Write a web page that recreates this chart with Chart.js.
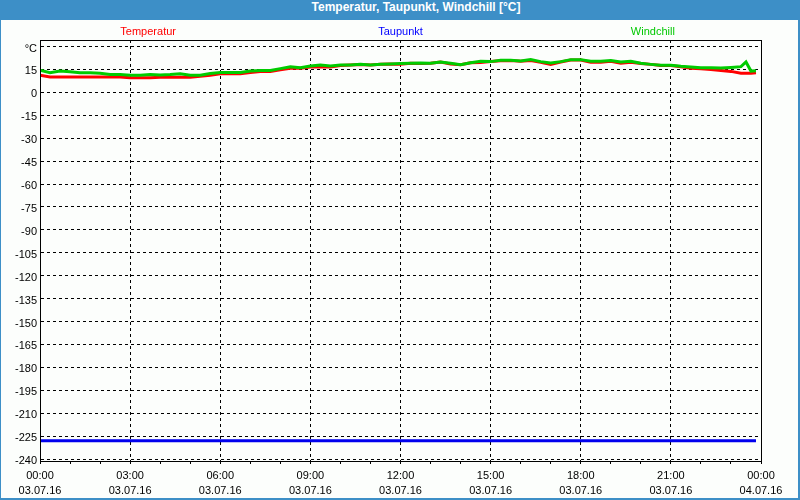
<!DOCTYPE html>
<html>
<head>
<meta charset="utf-8">
<script src="https://cdn.jsdelivr.net/npm/chart.js@4"></script>
<style>
  html, body { margin: 0; padding: 0; }
  body { width: 800px; height: 500px; background: #3d8fc7; position: relative; overflow: hidden; }
  #title { position: absolute; left: 32px; top: 0; width: 768px; height: 20px; line-height: 20px;
           text-align: center; color: #fff; font: bold 12px "Liberation Sans", Arial, sans-serif; }
  #panel { position: absolute; left: 1px; top: 20px; width: 797px; height: 478px; background: #fcfefc; }
  #chart { position: absolute; left: 0; top: 0; }
</style>
</head>
<body>
<div id="title">Temperatur, Taupunkt, Windchill [°C]</div>
<div id="panel"></div>
<canvas id="chart" width="800" height="500"></canvas>
<script>
// Messzeiten (03.07.16)
const times = [
  '00:00','00:20','00:40','01:00','01:20','01:40','02:00','02:20','02:40','03:00',
  '03:20','03:40','04:00','04:20','04:40','05:00','05:20','05:40','06:00','06:20',
  '06:40','07:00','07:20','07:40','08:00','08:20','08:40','09:00','09:20','09:40',
  '10:00','10:20','10:40','11:00','11:20','11:40','12:00','12:20','12:40','13:00',
  '13:20','13:40','14:00','14:20','14:40','15:00','15:20','15:40','16:00','16:20',
  '16:40','17:00','17:20','17:40','18:00','18:20','18:40','19:00','19:20','19:40',
  '20:00','20:20','20:40','21:00','21:20','21:40','22:00','22:20','22:40','23:00',
  '23:20','23:30','23:40','23:50'
];

const temperatur = [
  11.2, 10.1, 10.1, 10.1, 10.1, 10.1, 10.1, 10.1, 10.1, 9.5,
  9.5, 9.5, 9.9, 9.9, 9.9, 9.9, 10.5, 11.2, 12.1, 12.1,
  12.1, 13.0, 13.7, 13.7, 14.8, 15.7, 15.7, 16.5, 16.6, 16.6,
  17.5, 17.9, 18.2, 17.9, 18.3, 18.5, 18.4, 19.0, 18.8, 19.0,
  19.9, 18.5, 18.0, 19.4, 19.6, 20.1, 20.6, 20.8, 20.3, 20.8,
  19.6, 18.3, 19.8, 21.2, 21.2, 19.7, 19.7, 20.3, 19.0, 19.7,
  18.8, 18.3, 17.5, 17.5, 16.8, 15.8, 15.4, 15.0, 14.3, 13.7,
  12.5, 12.5, 12.5, 12.8
];

const windchill = [
  14.5, 12.8, 13.9, 13.5, 12.8, 12.8, 12.5, 11.7, 11.7, 11.2,
  11.2, 11.6, 11.4, 11.6, 12.1, 11.2, 11.2, 12.3, 13.0, 13.0,
  13.0, 13.9, 14.3, 14.3, 15.5, 16.8, 16.1, 17.2, 17.9, 17.2,
  17.9, 17.9, 18.4, 17.9, 18.3, 18.5, 18.8, 19.0, 19.2, 19.0,
  19.9, 19.0, 18.0, 19.4, 20.3, 20.1, 21.0, 21.0, 20.5, 21.4,
  20.1, 19.2, 20.1, 21.4, 21.4, 20.3, 20.3, 20.8, 19.9, 20.3,
  19.0, 18.3, 17.7, 17.7, 17.0, 16.5, 16.1, 16.1, 15.9, 16.3,
  16.8, 19.9, 13.9, 14.1
];

// Taupunkt: Sensorwert konstant
const taupunkt = [
  -228, -228, -228, -228, -228, -228, -228, -228, -228, -228,
  -228, -228, -228, -228, -228, -228, -228, -228, -228, -228,
  -228, -228, -228, -228, -228, -228, -228, -228, -228, -228,
  -228, -228, -228, -228, -228, -228, -228, -228, -228, -228,
  -228, -228, -228, -228, -228, -228, -228, -228, -228, -228,
  -228, -228, -228, -228, -228, -228, -228, -228, -228, -228,
  -228, -228, -228, -228, -228, -228, -228, -228, -228, -228,
  -228, -228, -228, -228
];

// Achsenbeschriftung
const yTickValues = [30, 15, 0, -15, -30, -45, -60, -75, -90, -105, -120, -135, -150, -165, -180, -195, -210, -225, -240];
const yTickLabels = ['°C', '15', '0', '-15', '-30', '-45', '-60', '-75', '-90', '-105', '-120', '-135', '-150', '-165', '-180', '-195', '-210', '-225', '-240'];
const xLabelHours = [0, 3, 6, 9, 12, 15, 18, 21, 24];
const xLabelTimes = ['00:00', '03:00', '06:00', '09:00', '12:00', '15:00', '18:00', '21:00', '00:00'];
const xLabelDates = ['03.07.16', '03.07.16', '03.07.16', '03.07.16', '03.07.16', '03.07.16', '03.07.16', '03.07.16', '04.07.16'];

function toHours(t) {
  const p = t.split(':');
  return parseInt(p[0], 10) + parseInt(p[1], 10) / 60;
}

function series(values) {
  return values.map((v, i) => ({ x: toHours(times[i]), y: v }));
}

const font = { family: '"Liberation Sans", Arial, sans-serif', size: 11 };

// Legende oben, über die Breite verteilt
const topLegend = {
  id: 'topLegend',
  afterDraw(chart) {
    const ctx = chart.ctx;
    const a = chart.chartArea;
    const pos = [0.15, 0.5, 0.85];
    ctx.save();
    ctx.font = '11px "Liberation Sans", Arial, sans-serif';
    ctx.textAlign = 'center';
    ctx.textBaseline = 'middle';
    chart.data.datasets.forEach((ds, i) => {
      ctx.fillStyle = ds.legendColor;
      ctx.fillText(ds.label, a.left + a.width * pos[i], 32);
    });
    ctx.restore();
  }
};

// Rahmen um den Plotbereich
const frame = {
  id: 'frame',
  afterDraw(chart) {
    const ctx = chart.ctx;
    const a = chart.chartArea;
    ctx.save();
    ctx.strokeStyle = '#000';
    ctx.lineWidth = 1;
    ctx.strokeRect(Math.round(a.left) + 0.5, Math.round(a.top) + 0.5,
                   Math.round(a.right - a.left), Math.round(a.bottom - a.top));
    ctx.restore();
  }
};

new Chart(document.getElementById('chart'), {
  type: 'line',
  data: {
    datasets: [
      {
        label: 'Temperatur',
        data: series(temperatur),
        borderColor: '#ff0000',
        legendColor: '#ff0000',
        borderWidth: 3,
        pointRadius: 0,
        order: 2
      },
      {
        label: 'Taupunkt',
        data: series(taupunkt),
        borderColor: '#0000ee',
        legendColor: '#0000ff',
        borderWidth: 3,
        pointRadius: 0,
        order: 1
      },
      {
        label: 'Windchill',
        data: series(windchill),
        borderColor: '#00cc00',
        legendColor: '#00c800',
        borderWidth: 3,
        pointRadius: 0,
        order: 0
      }
    ]
  },
  options: {
    responsive: false,
    animation: false,
    devicePixelRatio: 1,
    layout: { padding: { top: 40, right: 39, left: 0, bottom: 0 } },
    plugins: {
      legend: { display: false },
      tooltip: { enabled: false }
    },
    scales: {
      x: {
        type: 'linear',
        min: 0,
        max: 24,
        afterFit(scale) { scale.height = 39; },
        afterBuildTicks(scale) {
          const t = [];
          for (let h = 0; h <= 24; h++) t.push({ value: h });
          scale.ticks = t;
        },
        ticks: {
          autoSkip: false,
          maxRotation: 0,
          padding: 4,
          color: '#000',
          font: { family: font.family, size: 11, lineHeight: 15 / 11 },
          callback(value) {
            const k = xLabelHours.indexOf(value);
            return k < 0 ? '' : [xLabelTimes[k], xLabelDates[k]];
          }
        },
        grid: {
          color: ctx => (ctx.tick && xLabelHours.includes(ctx.tick.value)) ? '#000' : 'rgba(0,0,0,0)',
          tickColor: '#000',
          tickLength: 3
        },
        border: { color: '#000', dash: [3, 3] }
      },
      y: {
        min: -241.3,
        max: 34.25,
        afterFit(scale) { scale.width = 40; },
        afterBuildTicks(scale) {
          scale.ticks = yTickValues.map(v => ({ value: v }));
        },
        ticks: {
          padding: 3,
          labelOffset: 2,
          color: '#000',
          font: font,
          callback(value) {
            const k = yTickValues.indexOf(value);
            return k < 0 ? '' : yTickLabels[k];
          }
        },
        grid: { color: '#000', drawTicks: false },
        border: { color: '#000', dash: [3, 3] }
      }
    }
  },
  plugins: [topLegend, frame]
});
</script>
</body>
</html>
